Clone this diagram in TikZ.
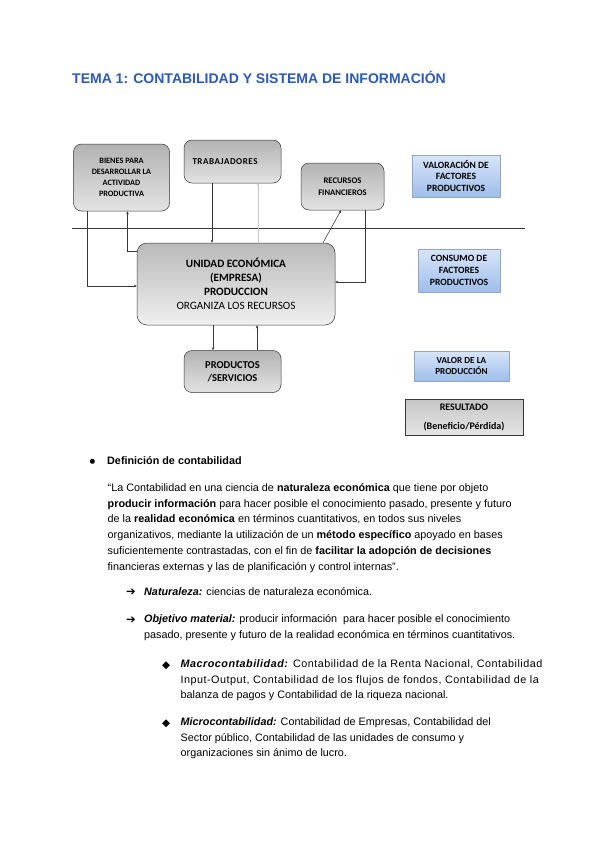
\documentclass[tikz,border=0pt]{standalone}
\usepackage{fontspec}
\setmainfont{Liberation Sans}
\newfontfamily\carl{Carlito}
\newfontfamily\dejavu{DejaVu Sans}
\usetikzlibrary{arrows.meta}
\definecolor{titleblue}{RGB}{44,90,182}
\definecolor{linegray}{RGB}{55,55,55}
\definecolor{faintgray}{RGB}{200,200,200}
\definecolor{bluetop}{RGB}{216,229,248}
\definecolor{bluebot}{RGB}{158,190,236}
\definecolor{blueedge}{RGB}{150,165,190}
\tikzset{
  gbox/.style={draw=linegray, line width=0.5pt, rounded corners=8pt,
    top color=gray!60, bottom color=gray!22, align=center, inner sep=0pt,
    font=\carl\bfseries\fontsize{8.2}{11}\selectfont},
  bbox/.style={draw=blueedge, line width=0.4pt, top color=bluetop, bottom color=bluebot,
    align=center, inner sep=0pt, font=\carl\bfseries\fontsize{9.6}{11.8}\selectfont},
  rbox/.style={draw=linegray, line width=0.6pt, top color=gray!45, bottom color=gray!20,
    align=center, inner sep=0pt, font=\carl\bfseries\fontsize{10}{19}\selectfont},
  conn/.style={draw=linegray, line width=0.55pt, -{Stealth[length=3pt,width=2.6pt]}},
  fconn/.style={draw=faintgray, line width=0.4pt, -{Stealth[length=3pt,width=2.6pt]}},
  txt/.style={anchor=base west, inner sep=0pt, font=\fontsize{10.8}{13}\selectfont},
  wtxt/.style={txt, font=\fontsize{10.8}{13}\selectfont\addfontfeature{LetterSpace=4.5}},
  sym/.style={anchor=base west, inner sep=0pt, font=\dejavu\fontsize{9}{11}\selectfont},
  arrsym/.style={sym, font=\dejavu\fontsize{11.5}{13}\selectfont},
  diasym/.style={sym, font=\dejavu\fontsize{10.5}{12}\selectfont},
}
\begin{document}
\begin{tikzpicture}[x=1pt,y=-1pt]
\useasboundingbox[fill=white] (0,0) rectangle (600,848);

% title
\node[anchor=base west, inner sep=0pt, text=titleblue, font=\bfseries\fontsize{14}{16}\selectfont]
  (title) at (72,84) {TEMA 1: CONTABILIDAD Y SISTEMA DE INFORMACIÓN};

% diagram boxes
\node[gbox, minimum width=96pt, minimum height=67pt] (bienes) at (121.5,177.5)
  {BIENES PARA\\DESARROLLAR LA\\ACTIVIDAD\\PRODUCTIVA};
\node[gbox, minimum width=97pt, minimum height=43pt, text width=80pt, align=left,
  font=\carl\bfseries\fontsize{9}{11}\selectfont\addfontfeature{LetterSpace=6}] (trab) at (232.5,161.5) {TRABAJADORES};
\node[gbox, minimum width=83pt, minimum height=47pt, font=\carl\bfseries\fontsize{8.6}{11.6}\selectfont] (recursos) at (342.5,186.5)
  {RECURSOS\\FINANCIEROS};
\node[gbox, rounded corners=10pt, minimum width=198pt, minimum height=82pt,
  top color=gray!55, bottom color=gray!12,
  font=\carl\fontsize{11.2}{14}\selectfont] (main) at (236,284)
  {\textbf{UNIDAD ECONÓMICA}\\\textbf{(EMPRESA)}\\\textbf{PRODUCCION}\\ORGANIZA LOS RECURSOS};
\node[gbox, minimum width=97pt, minimum height=42pt,
  font=\carl\bfseries\fontsize{10.5}{13.3}\selectfont] (productos) at (232.5,371.5)
  {PRODUCTOS\\/SERVICIOS};

\node[bbox, minimum width=88pt, minimum height=42pt] (valfac) at (456,176)
  {VALORACIÓN DE\\FACTORES\\PRODUCTIVOS};
\node[bbox, minimum width=82pt, minimum height=43pt] (consumo) at (459,270.5)
  {CONSUMO DE\\FACTORES\\PRODUCTIVOS};
\node[bbox, minimum width=95pt, minimum height=30pt, font=\carl\bfseries\fontsize{9.2}{11}\selectfont] (valprod) at (461.5,366)
  {VALOR DE LA\\PRODUCCIÓN};
\node[rbox, minimum width=118pt, minimum height=36pt] (resultado) at (464,417)
  {RESULTADO\\(Beneficio/Pérdida)};

% horizontal line
\coordinate (hl) at (72,228.3);
\coordinate (hr) at (525,228.3);
\draw[draw=linegray, line width=0.7pt] (hl) -- (hr);

% connectors
\draw[conn] (bienes.south -| 87.5,0) |- (main.west |- 0,286);
\draw[conn] (main.north west |- 0,251.5) -| (bienes.south -| 127.5,0);
\draw[conn] (trab.south -| 212,0) -- (main.north -| 212,0);
\draw[fconn] (main.north -| 258,0) -- (trab.south -| 258,0);
\draw[conn] (main.north -| 323,0) -- (recursos.south -| 341,0);
\draw[conn] (recursos.south -| 365,0) |- (main.east |- 0,282);
\draw[conn] (main.south -| 213,0) -- (productos.north -| 213,0);
\draw[conn] (productos.north -| 257,0) -- (main.south -| 257,0);

% text section
\node[sym, font=\dejavu\fontsize{6.5}{8}\selectfont] (b1) at (89.5,463.5) {●};
\node[txt] (h1) at (107,464) {\textbf{Definición de contabilidad}};

\node[txt] (p1) at (107.5,491.5) {“La Contabilidad en una ciencia de \textbf{naturaleza económica} que tiene por objeto};
\node[txt] (p2) at (107.5,507.2) {\textbf{producir información} para hacer posible el conocimiento pasado, presente y futuro};
\node[txt] (p3) at (107.5,522.9) {de la \textbf{realidad económica} en términos cuantitativos, en todos sus niveles};
\node[txt] (p4) at (107.5,538.6) {organizativos, mediante la utilización de un \textbf{método específico} apoyado en bases};
\node[txt] (p5) at (107.5,554.3) {suficientemente contrastadas, con el fin de \textbf{facilitar la adopción de decisiones}};
\node[txt] (p6) at (107.5,570) {financieras externas y las de planificación y control internas”.};

\node[arrsym] (a1) at (126,595.5) {➔};
\node[txt] (n1) at (144,595) {\textbf{\textit{Naturaleza:}} ciencias de naturaleza económica.};
\node[arrsym] (a2) at (126,623.2) {➔};
\node[txt] (o1) at (144,622.7) {\textbf{\textit{Objetivo material:}} producir información\ \ para hacer posible el conocimiento};
\node[txt] (o2) at (144,638.3) {pasado, presente y futuro de la realidad económica en términos cuantitativos.};

\node[diasym] (d1) at (162,668) {◆};
\node[wtxt] (m1) at (180.5,667.5) {\textbf{\textit{Macrocontabilidad:}} Contabilidad de la Renta Nacional, Contabilidad};
\node[wtxt] (m2) at (180.5,683) {Input-Output, Contabilidad de los flujos de fondos, Contabilidad de la};
\node[txt] (m3) at (180.5,698.5) {balanza de pagos y Contabilidad de la riqueza nacional.};

\node[diasym] (d2) at (162,726) {◆};
\node[txt] (k1) at (180.5,725.5) {\textbf{\textit{Microcontabilidad:}} Contabilidad de Empresas, Contabilidad del};
\node[txt] (k2) at (180.5,741) {Sector público, Contabilidad de las unidades de consumo y};
\node[txt] (k3) at (180.5,756.5) {organizaciones sin ánimo de lucro.};
\end{tikzpicture}
\end{document}
